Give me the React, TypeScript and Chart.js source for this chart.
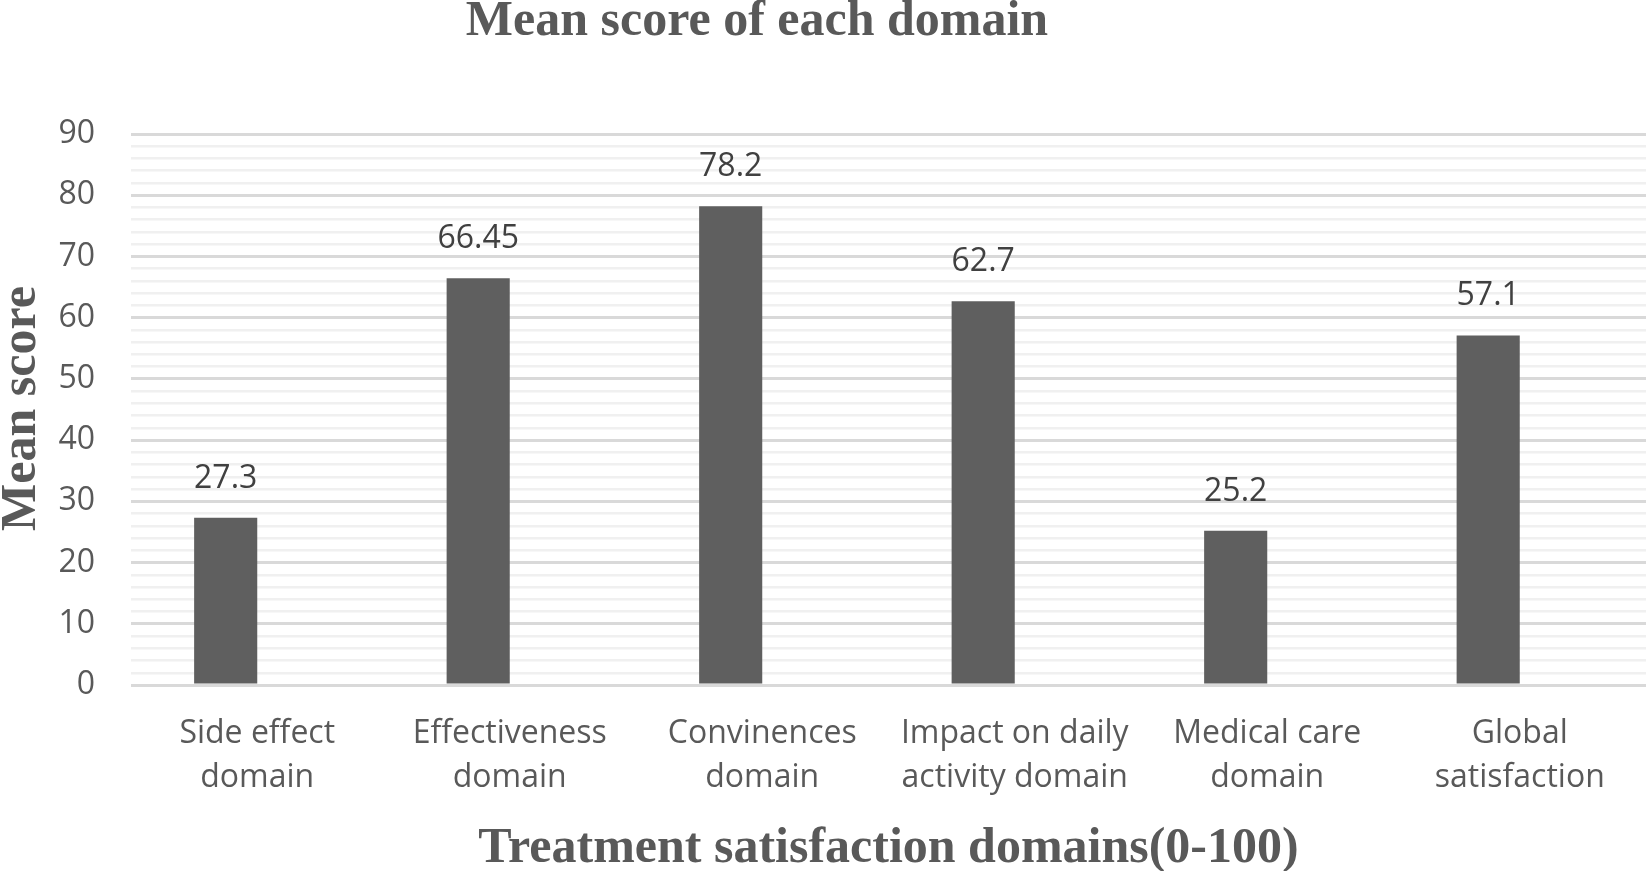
import React, { useEffect, useRef } from "react";
import { Chart, registerables } from "chart.js";

Chart.register(...registerables);

const categories: string[][] = [
  ["Side effect", "domain"],
  ["Effectiveness", "domain"],
  ["Convinences", "domain"],
  ["Impact on daily", "activity domain"],
  ["Medical care", "domain"],
  ["Global", "satisfaction"],
];
const meanScores: number[] = [27.3, 66.45, 78.2, 62.7, 25.2, 57.1];
const valueLabels: string[] = ["27.3", "66.45", "78.2", "62.7", "25.2", "57.1"];
const emptySeries: (number | null)[] = [null, null, null, null, null, null];
const chartTitle = "Mean score of each domain";
const xTitle = "Treatment satisfaction domains(0-100)";
const yTitle = "Mean score";

const SANS = "'Open Sans', sans-serif";
const SERIF = "'Liberation Serif', 'Times New Roman', serif";

const decorPlugin = {
  id: "decor",
  afterDatasetsDraw(chart: any) {
    const ctx = chart.ctx as CanvasRenderingContext2D;
    const meta = chart.getDatasetMeta(0);
    ctx.save();
    ctx.fillStyle = "#404040";
    ctx.font = `32px ${SANS}`;
    ctx.textAlign = "center";
    ctx.textBaseline = "alphabetic";
    meta.data.forEach((bar: any, i: number) => {
      ctx.fillText(valueLabels[i], bar.x, bar.y - 30);
    });
    ctx.restore();
  },
  afterDraw(chart: any) {
    const ctx = chart.ctx as CanvasRenderingContext2D;
    const area = chart.chartArea;
    ctx.save();
    ctx.fillStyle = "#595959";
    ctx.font = `bold 50px ${SERIF}`;
    ctx.textAlign = "center";
    ctx.textBaseline = "alphabetic";
    ctx.fillText(chartTitle, 757, 35);
    ctx.fillText(xTitle, (area.left + area.right) / 2, 862);
    ctx.translate(35, (area.top + area.bottom) / 2 - 1);
    ctx.rotate(-Math.PI / 2);
    ctx.fillText(yTitle, 0, 0);
    ctx.restore();
  },
};

export default function App() {
  const canvasRef = useRef<HTMLCanvasElement | null>(null);

  useEffect(() => {
    document.body.style.margin = "0";
    const canvas = canvasRef.current;
    if (!canvas) return;
    const chart = new Chart(canvas, {
      type: "bar",
      data: {
        labels: categories,
        datasets: [
          {
            label: "Mean score",
            data: meanScores,
            backgroundColor: "#5f5f5f",
            borderWidth: 0,
            categoryPercentage: 0.5,
            barPercentage: 1,
          },
          {
            label: "",
            data: emptySeries,
            backgroundColor: "rgba(0,0,0,0)",
            categoryPercentage: 0.5,
            barPercentage: 1,
          },
        ],
      },
      options: {
        animation: false,
        responsive: true,
        maintainAspectRatio: false,
        layout: { padding: { top: 134, left: 0, right: 0, bottom: 0 } },
        plugins: {
          legend: { display: false },
          title: { display: false },
          tooltip: { enabled: false },
        },
        scales: {
          x: {
            grid: { display: false, drawTicks: false },
            border: { display: false },
            ticks: {
              color: "#595959",
              font: { family: SANS, size: 32, lineHeight: 1.4 },
              padding: 26,
              maxRotation: 0,
              autoSkip: false,
            },
            afterFit(scale: any) {
              scale.height = 186;
            },
          },
          y: {
            min: 0,
            max: 90,
            grid: {
              drawTicks: false,
              color: (c: any) =>
                c.tick && c.tick.value % 10 === 0 ? "#d9d9d9" : "#f0f0f0",
              lineWidth: (c: any) => (c.tick && c.tick.value % 10 === 0 ? 3 : 2.5),
            },
            border: { display: false },
            ticks: {
              stepSize: 2,
              color: "#595959",
              font: { family: SANS, size: 32 },
              padding: 36,
              autoSkip: false,
              callback: (v: any) => (Number(v) % 10 === 0 ? String(v) : ""),
            },
            afterFit(scale: any) {
              scale.width = 131;
            },
          },
        },
      },
      plugins: [decorPlugin],
    });
    return () => chart.destroy();
  }, []);

  return (
    <div style={{ width: 1646, height: 871, position: "relative", background: "#fff" }}>
      <canvas ref={canvasRef} />
    </div>
  );
}
